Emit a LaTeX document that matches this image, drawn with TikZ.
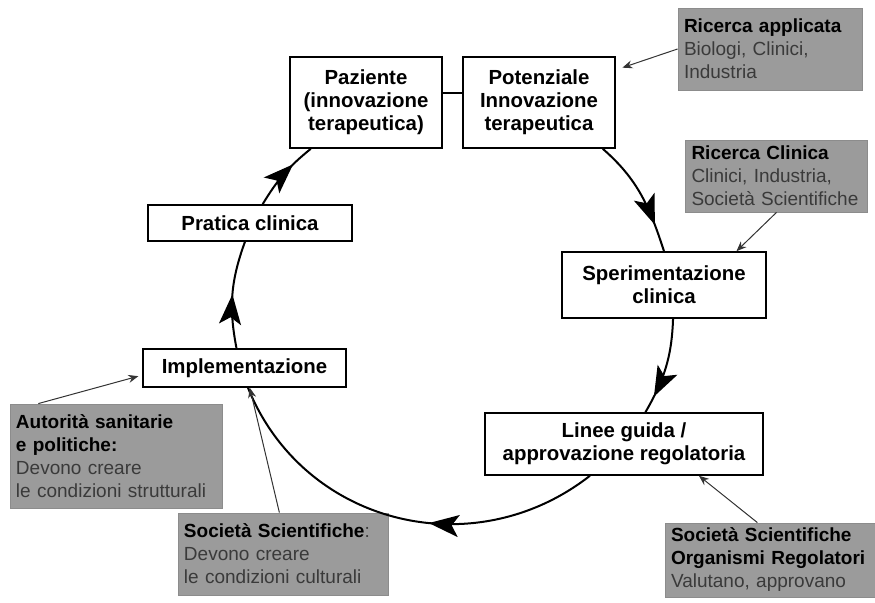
\documentclass[tikz,border=0pt]{standalone}
\usepackage{fontspec}
\setmainfont{Liberation Sans}
\usepackage{tikz}
\usetikzlibrary{shapes,arrows.meta,decorations.markings}
\definecolor{notefill}{RGB}{155,155,155}
\definecolor{notetext}{RGB}{58,58,58}
\newcommand{\notefont}{\fontsize{9.5}{11.5}\selectfont\hyphenpenalty=10000 \color{notetext}}
\tikzstyle{line} = [draw, black!80, line width=0.5pt, -{Stealth[length=5pt,width=4pt]}]
\tikzstyle{box} = [draw, fill=white, line width=0.8pt, align=center, inner sep=0pt, font=\fontsize{10.2}{11.5}\selectfont\bfseries]
\tikzstyle{note} = [draw=black!45, fill=notefill, align=left, inner xsep=3pt, inner ysep=0pt, font=\notefont]
\tikzstyle{cyc} = [draw, line width=1pt]
\tikzset{arrowat/.style={decoration={markings, mark=at position #1 with {\arrow{Stealth[length=15pt,width=11pt,inset=3.5pt]}}}, postaction={decorate}}}
\newcommand{\hd}[1]{{\bfseries\color{black}#1}}

\begin{document}
\begin{tikzpicture}[x=0.5pt, y=0.5pt]
		\useasboundingbox (0,0) rectangle (875,603);
		% cycle boxes
		\node[box, minimum width=76pt, minimum height=45.5pt] (paz) at (366,500.5) {Paziente\\(innovazione\\terapeutica)};
		\node[box, minimum width=76pt, minimum height=45.5pt] (pot) at (539,500.5) {Potenziale\\Innovazione\\terapeutica};
		\node[box, minimum width=102pt, minimum height=18pt] (pra) at (250,380) {Pratica clinica};
		\node[box, minimum width=102pt, minimum height=33pt] (spe) at (664,318) {Sperimentazione\\clinica};
		\node[box, minimum width=101.5pt, minimum height=19pt] (imp) at (244.5,235) {Implementazione};
		\node[box, minimum width=139pt, minimum height=31pt] (lin) at (624,159) {Linee guida /\\approvazione regolatoria};
		% grey notes
		\node[note, text width=86pt, minimum height=41pt] (ra) at (770,554) {\hd{Ricerca applicata}\\Biologi, Clinici,\\Industria};
		\node[note, text width=85pt, minimum height=36pt] (rc) at (776.5,427) {\hd{Ricerca Clinica}\\Clinici, Industria,\\Societ\`a Scientifiche};
		\node[note, text width=100pt, minimum height=52pt] (aut) at (116,147) {\hd{Autorit\`a sanitarie}\\\hd{e politiche:}\\Devono creare\\le condizioni strutturali};
		\node[note, text width=99pt, minimum height=41pt] (ss) at (283,49) {\hd{Societ\`a Scientifiche}:\\Devono creare\\le condizioni culturali};
		\node[note, text width=101.5pt, minimum height=37pt] (sso) at (772.5,43) {\hd{Societ\`a Scientifiche}\\\hd{Organismi Regolatori}\\Valutano, approvano};
		% cycle
		\draw[line width=0.8pt] (paz.7) -- (pot.173);
		\path[cyc, arrowat=0.77] (pot.-36) to[out=-41, in=108] (spe.north);
		\path[cyc, arrowat=0.82] (spe.-75) to[out=-92, in=60] (lin.56);
		\path[cyc, arrowat=0.42] (lin.-137) to[out=218, in=-68, looseness=1.07] (imp.-80);
		\path[cyc, arrowat=0.5] (imp.112) to[out=101, in=250] (pra.-105.5);
		\path[cyc, arrowat=0.68] (pra.56) to[out=59, in=219] (paz.-140);
		% note arrows
		\path[line, shorten >=3.5pt] (ra.west) -- (pot.23);
		\path[line] (rc.south) -- (spe.25);
		\path[line, shorten >=2pt] (aut.146) -- (imp.184);
		\path[line] (ss.95) -- (imp.-75);
		\path[line] (sso.112) -- (lin.-23);
\end{tikzpicture}
\end{document}
